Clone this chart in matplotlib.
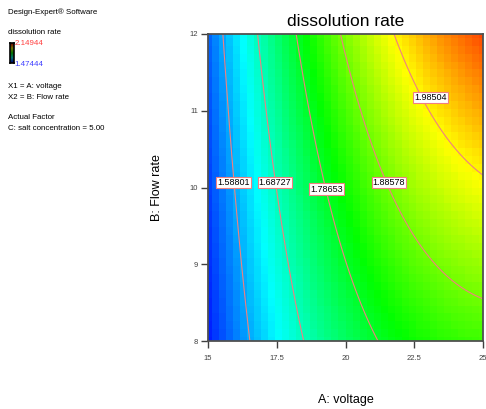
import numpy as np
import matplotlib.pyplot as plt
from matplotlib.colors import LinearSegmentedColormap

plt.rcParams['font.family'] = ['Liberation Sans', 'DejaVu Sans']

# response surface, coded units A=(voltage-20)/5, B=(flow-10)/2
coef_names = ['b0', 'A', 'B', 'AB', 'A2', 'B2']
coef_values = [1.8215, 0.2286, 0.0738, 0.05, -0.075, 0.0008]

voltage_range = [15, 25]
flow_range = [8, 12]
z_min, z_max = 1.47444, 2.14944
levels = [1.58801, 1.68727, 1.78653, 1.88578, 1.98504]
# where each contour value is printed
label_x = [15.92, 17.44, 19.30, 21.58, 23.09]
label_y = [10.07, 10.07, 9.98, 10.07, 11.17]

xticks = [15, 17.5, 20, 22.5, 25]
yticks = [8, 9, 10, 11, 12]


def response(x, y):
    a = (x - 20) / 5.0
    b = (y - 10) / 2.0
    c = dict(zip(coef_names, coef_values))
    return (c['b0'] + c['A'] * a + c['B'] * b + c['AB'] * a * b
            + c['A2'] * a * a + c['B2'] * b * b)


cmap = LinearSegmentedColormap.from_list(
    'dx', ['#0000ff', '#00ffff', '#00ff00', '#ffff00', '#ff0000'])
line_col = '#f08080'

W, H = 486, 409
fig = plt.figure(figsize=(W / 100, H / 100), dpi=100)
ax = fig.add_axes([208 / W, 1 - 341 / H, 275 / W, 307 / H])

# blocky colour grid like the original
xc = np.linspace(15, 25, 40)
yc = np.linspace(8, 12, 40)
XC, YC = np.meshgrid(xc, yc)
ax.pcolormesh(XC, YC, response(XC, YC), cmap=cmap, vmin=z_min, vmax=z_max,
              shading='nearest')

# smooth contour lines
xf = np.linspace(15, 25, 300)
yf = np.linspace(8, 12, 300)
XF, YF = np.meshgrid(xf, yf)
ax.contour(XF, YF, response(XF, YF), levels=levels, colors=line_col,
           linewidths=0.8)

for lv, lx, ly in zip(levels, label_x, label_y):
    ax.text(lx, ly, '%.5f' % lv, fontsize=6.5, ha='center', va='center',
            bbox=dict(boxstyle='square,pad=0.12', fc='white', ec=line_col, lw=0.8))

ax.set_xlim(voltage_range)
ax.set_ylim(flow_range)
ax.set_xticks(xticks)
ax.set_xticklabels(['15', '17.5', '20', '22.5', '25'])
ax.set_yticks(yticks)
ax.tick_params(direction='out', length=5, width=1, labelsize=5.5,
               colors='#404040')
ax.tick_params(axis='x', pad=5)
ax.tick_params(axis='y', pad=2)
for s in ax.spines.values():
    s.set_color('#505050')
    s.set_linewidth(1.3)

ax.set_title('dissolution rate', fontsize=12.5, pad=6)
ax.set_xlabel('A: voltage', fontsize=9, va='center')
ax.xaxis.set_label_coords(0.5, -(400 - 341) / 307)
ax.set_ylabel('B: Flow rate', fontsize=9, va='center')
ax.yaxis.set_label_coords(-(208 - 157) / 275, 0.5)

# left info panel
fs = 5.7
fig.text(8 / W, 1 - 12.5 / H, 'Design-Expert® Software', fontsize=fs, va='center')
fig.text(8 / W, 1 - 33 / H, 'dissolution rate', fontsize=fs, va='center')
fig.text(14.5 / W, 1 - 43.5 / H, '%.5f' % z_max, fontsize=fs, va='center',
         color='#ff4040')
fig.text(14.5 / W, 1 - 64 / H, '%.5f' % z_min, fontsize=fs, va='center',
         color='#4040ff')
fig.text(8 / W, 1 - 86.7 / H, 'X1 = A: voltage', fontsize=fs, va='center')
fig.text(8 / W, 1 - 97.3 / H, 'X2 = B: Flow rate', fontsize=fs, va='center')
fig.text(8 / W, 1 - 117.7 / H, 'Actual Factor', fontsize=fs, va='center')
fig.text(8 / W, 1 - 128.3 / H, 'C: salt concentration = 5.00', fontsize=fs,
         va='center')

cax = fig.add_axes([9.5 / W, 1 - 63 / H, 4 / W, 20 / H])
grad = np.linspace(z_max, z_min, 30).reshape(-1, 1)
cax.imshow(grad, cmap=cmap, vmin=z_min, vmax=z_max, aspect='auto', alpha=0.45)
cax.set_facecolor('black')
cax.set_xticks([])
cax.set_yticks([])
for s in cax.spines.values():
    s.set_linewidth(1.2)

fig.savefig('out.png', dpi=100)
